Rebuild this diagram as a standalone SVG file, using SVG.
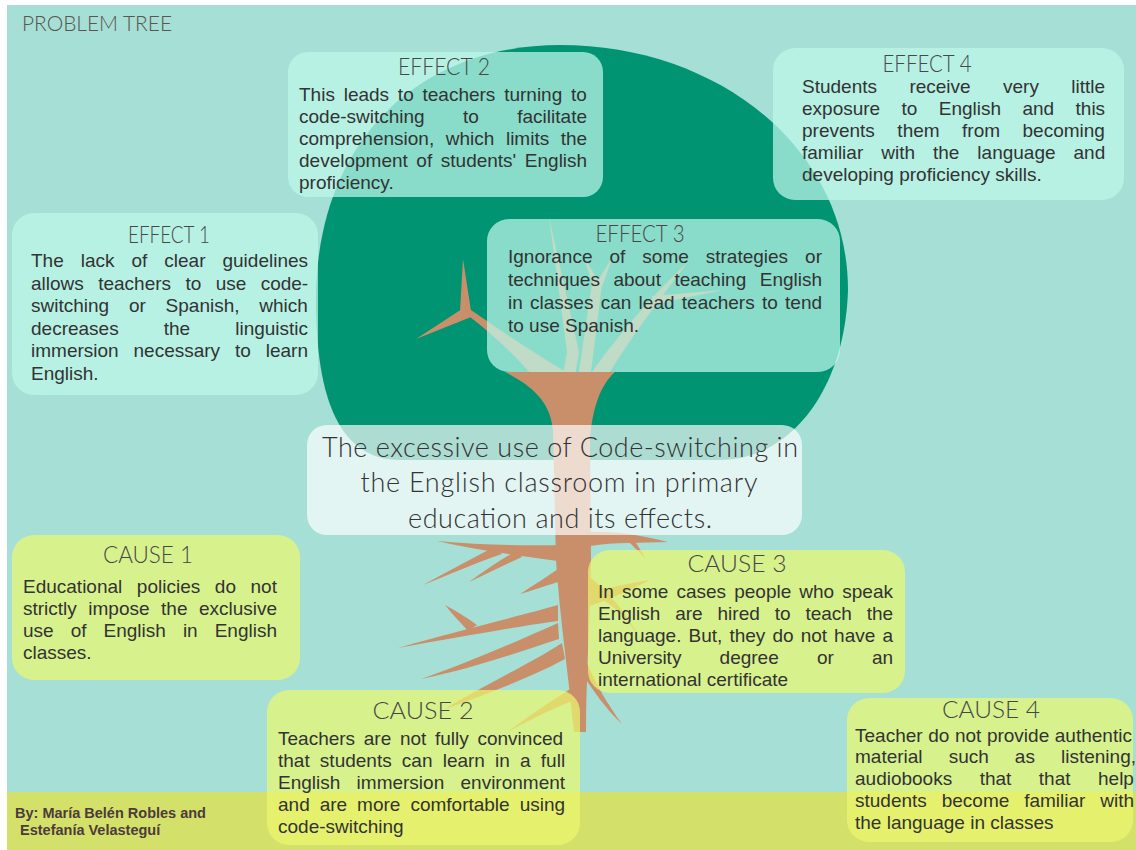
<svg xmlns="http://www.w3.org/2000/svg" width="1136" height="850" viewBox="0 0 1136 850">
  <defs>
    <style>
      .bg { fill: #a6dfd5; }
      .band { fill: #d3e06a; }
      .canopy { fill: #009473; }
      .wood { fill: #c98f6a; }
      .box-effect { fill: #bcf8ea; fill-opacity: 0.72; }
      .box-cause { fill: #edf86e; fill-opacity: 0.7; }
      .box-problem { fill: #ffffff; fill-opacity: 0.68; }
      .head { font-family: Lato, "Open Sans", "DejaVu Sans", sans-serif; font-weight: 300; font-size: 24px; fill: #474747; text-anchor: middle; }
      .body { font-family: "Liberation Sans", Arial, sans-serif; font-size: 19px; fill: #333333; }
      .problem { font-family: Lato, "Open Sans", "DejaVu Sans", sans-serif; font-weight: 300; font-size: 27px; fill: #333333; text-anchor: middle; }
      .label { font-family: Lato, "Open Sans", "DejaVu Sans", sans-serif; font-weight: 300; font-size: 21px; fill: #5a5550; }
      .credit { font-family: "Liberation Sans", Arial, sans-serif; font-weight: bold; font-size: 14.5px; fill: #4d3b3b; }
    </style>
  </defs>

  <!-- page -->
  <rect x="0" y="0" width="1136" height="850" fill="#ffffff"/>
  <rect class="bg" x="7" y="5" width="1129" height="845"/>
  <rect class="band" x="7" y="792" width="1129" height="58"/>

  <!-- tree crown -->
  <path class="canopy" d="M 316 300 C 316 140 420 45 560 45 C 720 45 848 150 848 290 C 845 390 790 460 720 460 L 400 460 C 340 460 316 400 316 300 Z"/>

  <g id="tree">
    <!-- trunk -->
    <path class="wood" d="M 505 372 C 530 385 550 400 553 430 L 556 560 C 560 620 569 680 574 732 L 586 732 C 586 680 590 620 591 560 L 590 440 C 592 410 600 385 615 372 Z"/>
    <!-- branches (tapered) -->
    <path class="wood" d="M 566 372 C 532 352 500 330 465 306 L 470 317 C 500 340 526 366 546 392 Z"/>
    <path class="wood" d="M 460 312 L 463 259 L 471 311 Z"/>
    <path class="wood" d="M 465 307 L 416 339 L 471 317 Z"/>
    <path class="wood" d="M 562 380 L 567 352 L 549 217 L 579 352 L 574 382 Z"/>
    <path class="wood" d="M 578 378 L 592 283 L 602 284 L 590 380 Z"/>
    <path class="wood" d="M 593 285 L 583 256 L 600 283 Z"/>
    <path class="wood" d="M 595 285 L 613 256 L 602 287 Z"/>
    <path class="wood" d="M 592 372 C 616 338 655 292 688 262 C 662 296 626 344 604 382 Z"/>
    <path class="wood" d="M 652 296 L 723 290 L 656 304 Z"/>
    <!-- roots (tapered) -->
    <path class="wood" d="M 558 545 C 525 546 480 545 437 541 C 480 551 525 556 558 561 Z"/>
    <path class="wood" d="M 494 547 C 470 560 446 572 423 585 C 448 575 475 563 502 554 Z"/>
    <path class="wood" d="M 516 551 C 500 560 485 570 469 582 C 488 573 504 565 522 557 Z"/>
    <path class="wood" d="M 558 569 C 545 578 534 585 520 594 C 537 589 548 585 558 582 Z"/>
    <path class="wood" d="M 558 605 C 520 616 460 630 398 648 C 460 637 520 626 558 621 Z"/>
    <path class="wood" d="M 477 625 C 466 617 456 611 445 605 C 452 614 461 623 468 631 Z"/>
    <path class="wood" d="M 558 623 C 520 640 470 662 421 679 C 472 669 522 651 559 639 Z"/>
    <path class="wood" d="M 562 643 C 530 664 482 686 445 709 C 484 695 532 677 565 659 Z"/>
    <path class="wood" d="M 590 532 C 615 531 640 535 668 542 C 640 543 615 542 590 546 Z"/>
    <path class="wood" d="M 625 538 L 646 559 L 633 538 Z"/>
    <path class="wood" d="M 590 577 C 610 594 626 612 642 642 C 628 618 614 604 590 593 Z"/>
    <path class="wood" d="M 590 594 C 610 587 630 583 650 580 C 630 590 612 598 590 606 Z"/>
    <path class="wood" d="M 586 661 C 596 684 606 702 622 724 C 604 707 594 691 584 677 Z"/>
    <path class="wood" d="M 578 684 C 558 697 533 712 508 732 C 535 717 560 705 580 698 Z"/>
  </g>

  <text id="title" class="label" x="22" y="31" textLength="150" lengthAdjust="spacingAndGlyphs">PROBLEM TREE</text>

  <!-- effects -->
  <g id="effect-2">
    <rect class="box-effect" x="288" y="52" width="315" height="145" rx="20"/>
    <text class="head" x="444" y="75" textLength="92" lengthAdjust="spacingAndGlyphs">EFFECT 2</text>
    <text class="body" x="299" y="101" word-spacing="3.5">This leads to teachers turning to</text>
    <text class="body" x="299" y="123" word-spacing="33.1">code-switching to facilitate</text>
    <text class="body" x="299" y="145" word-spacing="6.3">comprehension, which limits the</text>
    <text class="body" x="299" y="167" word-spacing="3.3">development of students' English</text>
    <text class="body" x="299" y="189">proficiency.</text>
  </g>

  <g id="effect-4">
    <rect class="box-effect" x="773" y="48" width="351" height="152" rx="22"/>
    <text class="head" x="927" y="72" textLength="89" lengthAdjust="spacingAndGlyphs">EFFECT 4</text>
    <text class="body" x="802" y="93" word-spacing="27.1">Students receive very little</text>
    <text class="body" x="802" y="115" word-spacing="16.1">exposure to English and this</text>
    <text class="body" x="802" y="137" word-spacing="17.2">prevents them from becoming</text>
    <text class="body" x="802" y="159" word-spacing="12.7">familiar with the language and</text>
    <text class="body" x="802" y="181">developing proficiency skills.</text>
  </g>

  <g id="effect-1">
    <rect class="box-effect" x="12" y="213" width="306" height="182" rx="22"/>
    <text class="head" x="169" y="243" textLength="82" lengthAdjust="spacingAndGlyphs">EFFECT 1</text>
    <text class="body" x="31" y="267" word-spacing="11.7">The lack of clear guidelines</text>
    <text class="body" x="31" y="289.5" word-spacing="9.1">allows teachers to use code-</text>
    <text class="body" x="31" y="312" word-spacing="14.5">switching or Spanish, which</text>
    <text class="body" x="31" y="334.5" word-spacing="39.8">decreases the linguistic</text>
    <text class="body" x="31" y="357" word-spacing="9.6">immersion necessary to learn</text>
    <text class="body" x="31" y="379.5">English.</text>
  </g>

  <g id="effect-3">
    <rect class="box-effect" x="487" y="219" width="353" height="153" rx="22"/>
    <text class="head" x="640" y="242" textLength="89" lengthAdjust="spacingAndGlyphs">EFFECT 3</text>
    <text class="body" x="508" y="263" word-spacing="11.7">Ignorance of some strategies or</text>
    <text class="body" x="508" y="286" word-spacing="8.2">techniques about teaching English</text>
    <text class="body" x="508" y="309" word-spacing="2">in classes can lead teachers to tend</text>
    <text class="body" x="508" y="332">to use Spanish.</text>
  </g>

  <!-- core problem -->
  <g id="problem">
    <rect class="box-problem" x="307" y="425" width="495" height="110" rx="20"/>
    <text class="problem" x="560" y="457" textLength="476" lengthAdjust="spacing">The excessive use of Code-switching in</text>
    <text class="problem" x="559" y="492" textLength="397" lengthAdjust="spacing">the English classroom in primary</text>
    <text class="problem" x="560" y="528" textLength="304" lengthAdjust="spacing">education and its effects.</text>
  </g>

  <!-- causes -->
  <g id="cause-1">
    <rect class="box-cause" x="12" y="535" width="288" height="145" rx="22"/>
    <text class="head" x="148" y="563" textLength="90" lengthAdjust="spacingAndGlyphs">CAUSE 1</text>
    <text class="body" x="23" y="593" word-spacing="9.3">Educational policies do not</text>
    <text class="body" x="23" y="615" word-spacing="6.2">strictly impose the exclusive</text>
    <text class="body" x="23" y="637" word-spacing="11.75">use of English in English</text>
    <text class="body" x="23" y="659">classes.</text>
  </g>

  <g id="cause-3">
    <rect class="box-cause" x="588" y="550" width="317" height="143" rx="22"/>
    <text class="head" x="737" y="572" textLength="99" lengthAdjust="spacingAndGlyphs">CAUSE 3</text>
    <text class="body" x="598" y="598" word-spacing="2.8">In some cases people who speak</text>
    <text class="body" x="598" y="620" word-spacing="9.6">English are hired to teach the</text>
    <text class="body" x="598" y="642" word-spacing="1.8">language. But, they do not have a</text>
    <text class="body" x="598" y="664" word-spacing="32.9">University degree or an</text>
    <text class="body" x="598" y="686">international certificate</text>
  </g>

  <g id="cause-2">
    <rect class="box-cause" x="267" y="690" width="313" height="155" rx="22"/>
    <text class="head" x="423" y="719" textLength="101" lengthAdjust="spacingAndGlyphs">CAUSE 2</text>
    <text class="body" x="278" y="745" word-spacing="3.4">Teachers are not fully convinced</text>
    <text class="body" x="278" y="767" word-spacing="4.9">that students can learn in a full</text>
    <text class="body" x="278" y="789" word-spacing="11">English immersion environment</text>
    <text class="body" x="278" y="811" word-spacing="4.7">and are more comfortable using</text>
    <text class="body" x="278" y="833">code-switching</text>
  </g>

  <g id="cause-4">
    <rect class="box-cause" x="847" y="698" width="286" height="144" rx="22"/>
    <text class="head" x="991" y="718" textLength="98" lengthAdjust="spacingAndGlyphs">CAUSE 4</text>
    <text class="body" x="855" y="742" word-spacing="0.3">Teacher do not provide authentic</text>
    <text class="body" x="855" y="763" word-spacing="20.8">material such as listening,</text>
    <text class="body" x="855" y="785" word-spacing="22.2">audiobooks that that help</text>
    <text class="body" x="855" y="807" word-spacing="9.6">students become familiar with</text>
    <text class="body" x="855" y="829">the language in classes</text>
  </g>

  <g id="credits">
    <text class="credit" x="15" y="818">By: María Belén Robles and</text>
    <text class="credit" x="20" y="835">Estefanía Velasteguí</text>
  </g>
</svg>
